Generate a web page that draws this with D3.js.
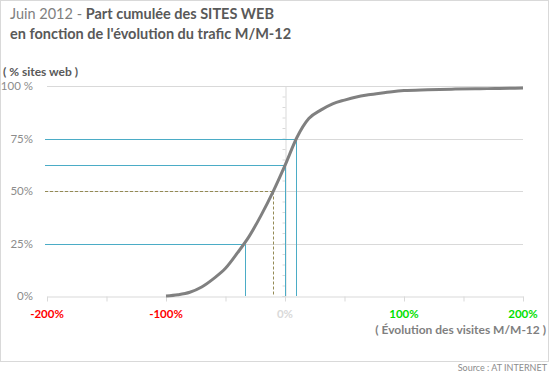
<!DOCTYPE html>
<html>
<head>
<meta charset="utf-8">
<script src="https://cdn.jsdelivr.net/npm/d3@7"></script>
<style>
  body { margin: 0; background: #fff; }
  text { font-family: Lato, "Open Sans", sans-serif; }
</style>
</head>
<body>
<div id="chart"></div>
<script>
// cumulated share of web sites vs. traffic evolution M/M-12
var evolution = [-100, -90, -80, -70, -60, -50, -40, -30, -20, -10, 0, 10, 20, 30, 40, 50, 60, 70, 80, 90, 100, 120, 140, 160, 180, 200];
var cumul     = [0, 0.6, 1.8, 4.3, 8.3, 13.2, 20.5, 28.5, 38.5, 49.7, 62.2, 75.5, 84.5, 88.5, 91.5, 93.3, 94.8, 95.8, 96.6, 97.3, 97.8, 98.2, 98.5, 98.7, 98.8, 99];

// reading guides: x = evolution, y = cumulated share
var guideX = [-34, -10, 0, 9];
var guideY = [25, 50, 62.2, 75];
var guideDashed = [false, true, false, false];

var xTicks = [-200, -100, 0, 100, 200];
var xTickLabels = ["-200%", "-100%", "0%", "100%", "200%"];
var xTickColors = ["#ff0000", "#ff0000", "#d9d9d9", "#00e000", "#00e000"];
var yTicks = [0, 25, 50, 75, 100];
var yTickLabels = ["0%", "25%", "50%", "75%", "100 %"];

var W = 551, H = 375;
var margin = {top: 86, right: 24, bottom: 79, left: 47};

var svg = d3.select("#chart").append("svg")
    .attr("width", W)
    .attr("height", H);

// frame
svg.append("rect")
    .attr("x", 0.5).attr("y", 0.5)
    .attr("width", 548).attr("height", 361)
    .attr("fill", "none")
    .attr("stroke", "#d9d9d9");

// title
var title = svg.append("text").attr("x", 10).attr("y", 19).style("font-size", "14.5px");
title.append("tspan").attr("fill", "#7f7f7f").text("Juin 2012 - ");
title.append("tspan").attr("fill", "#595959").style("font-weight", "bold").text("Part cumulée des SITES WEB");
svg.append("text").attr("x", 10).attr("y", 39)
    .style("font-size", "14.5px").style("font-weight", "bold")
    .attr("fill", "#595959")
    .text("en fonction de l'évolution du trafic M/M-12");

var x = d3.scaleLinear().domain([-200, 200]).range([margin.left, W - margin.right - 4]);
var y = d3.scaleLinear().domain([0, 100]).range([H - margin.bottom, margin.top]);

// horizontal gridlines
svg.selectAll("line.grid")
    .data(yTicks.slice(1))
  .enter().append("line")
    .attr("class", "grid")
    .attr("x1", x(-200)).attr("x2", x(200))
    .attr("y1", function(d) { return Math.round(y(d)) + 0.5; })
    .attr("y2", function(d) { return Math.round(y(d)) + 0.5; })
    .attr("stroke", "#d9d9d9");

// y axis sitting at x = 0%, with minor ticks every 5%
var yAxis = svg.append("g")
    .attr("transform", "translate(" + (Math.round(x(0)) + 0.5) + ",0)")
    .call(d3.axisLeft(y).tickValues(d3.range(0, 101, 5)).tickSize(3).tickFormat(""));
yAxis.selectAll("line, path").attr("stroke", "#d9d9d9");

// y labels on the left
svg.selectAll("text.ylab")
    .data(yTicks)
  .enter().append("text")
    .attr("class", "ylab")
    .attr("x", 33)
    .attr("y", function(d) { return y(d) + 4; })
    .attr("text-anchor", "end")
    .attr("fill", "#8c8c8c")
    .style("font-size", "11.5px")
    .text(function(d, i) { return yTickLabels[i]; });

svg.append("text")
    .attr("x", 3).attr("y", 76)
    .attr("fill", "#595959")
    .style("font-size", "12px").style("font-weight", "bold")
    .text("( % sites web )");

// x axis
var xAxis = svg.append("g")
    .attr("transform", "translate(0," + (Math.round(y(0)) + 0.5) + ")")
    .call(d3.axisBottom(x).tickValues(d3.range(-200, 201, 50)).tickSize(5).tickFormat("").tickSizeOuter(0));
xAxis.selectAll("line, path").attr("stroke", "#d9d9d9");

svg.selectAll("text.xlab")
    .data(xTicks)
  .enter().append("text")
    .attr("class", "xlab")
    .attr("x", function(d) { return x(d); })
    .attr("y", 318)
    .attr("text-anchor", "middle")
    .attr("fill", function(d, i) { return xTickColors[i]; })
    .style("font-size", "11.5px").style("font-weight", "bold")
    .text(function(d, i) { return xTickLabels[i]; });

svg.append("text")
    .attr("x", 546).attr("y", 334)
    .attr("text-anchor", "end")
    .attr("fill", "#7f7f7f")
    .style("font-size", "12px").style("font-weight", "bold")
    .text("( Évolution des visites M/M-12 )");

// reading guides
guideX.forEach(function(gx, i) {
  var col = guideDashed[i] ? "#948a54" : "#4bacc6";
  var dash = guideDashed[i] ? "3,2" : null;
  var gy = Math.round(y(guideY[i])) + 0.5;
  var vx = Math.round(x(gx)) + 0.5;
  svg.append("line")
      .attr("x1", x(-200) - 2).attr("x2", vx)
      .attr("y1", gy).attr("y2", gy)
      .attr("stroke", col).attr("stroke-dasharray", dash);
  svg.append("line")
      .attr("x1", vx).attr("x2", vx)
      .attr("y1", gy).attr("y2", y(0))
      .attr("stroke", col).attr("stroke-dasharray", dash);
});

// curve
var line = d3.line()
    .x(function(d, i) { return x(evolution[i]); })
    .y(function(d) { return y(d); })
    .curve(d3.curveMonotoneX);

svg.append("path")
    .datum(cumul)
    .attr("d", line)
    .attr("fill", "none")
    .attr("stroke", "#808080")
    .attr("stroke-width", 3);

// source
svg.append("text")
    .attr("x", 547).attr("y", 371)
    .attr("text-anchor", "end")
    .attr("fill", "#8c8c8c")
    .style("font-size", "9px")
    .text("Source : AT INTERNET");
</script>
</body>
</html>
